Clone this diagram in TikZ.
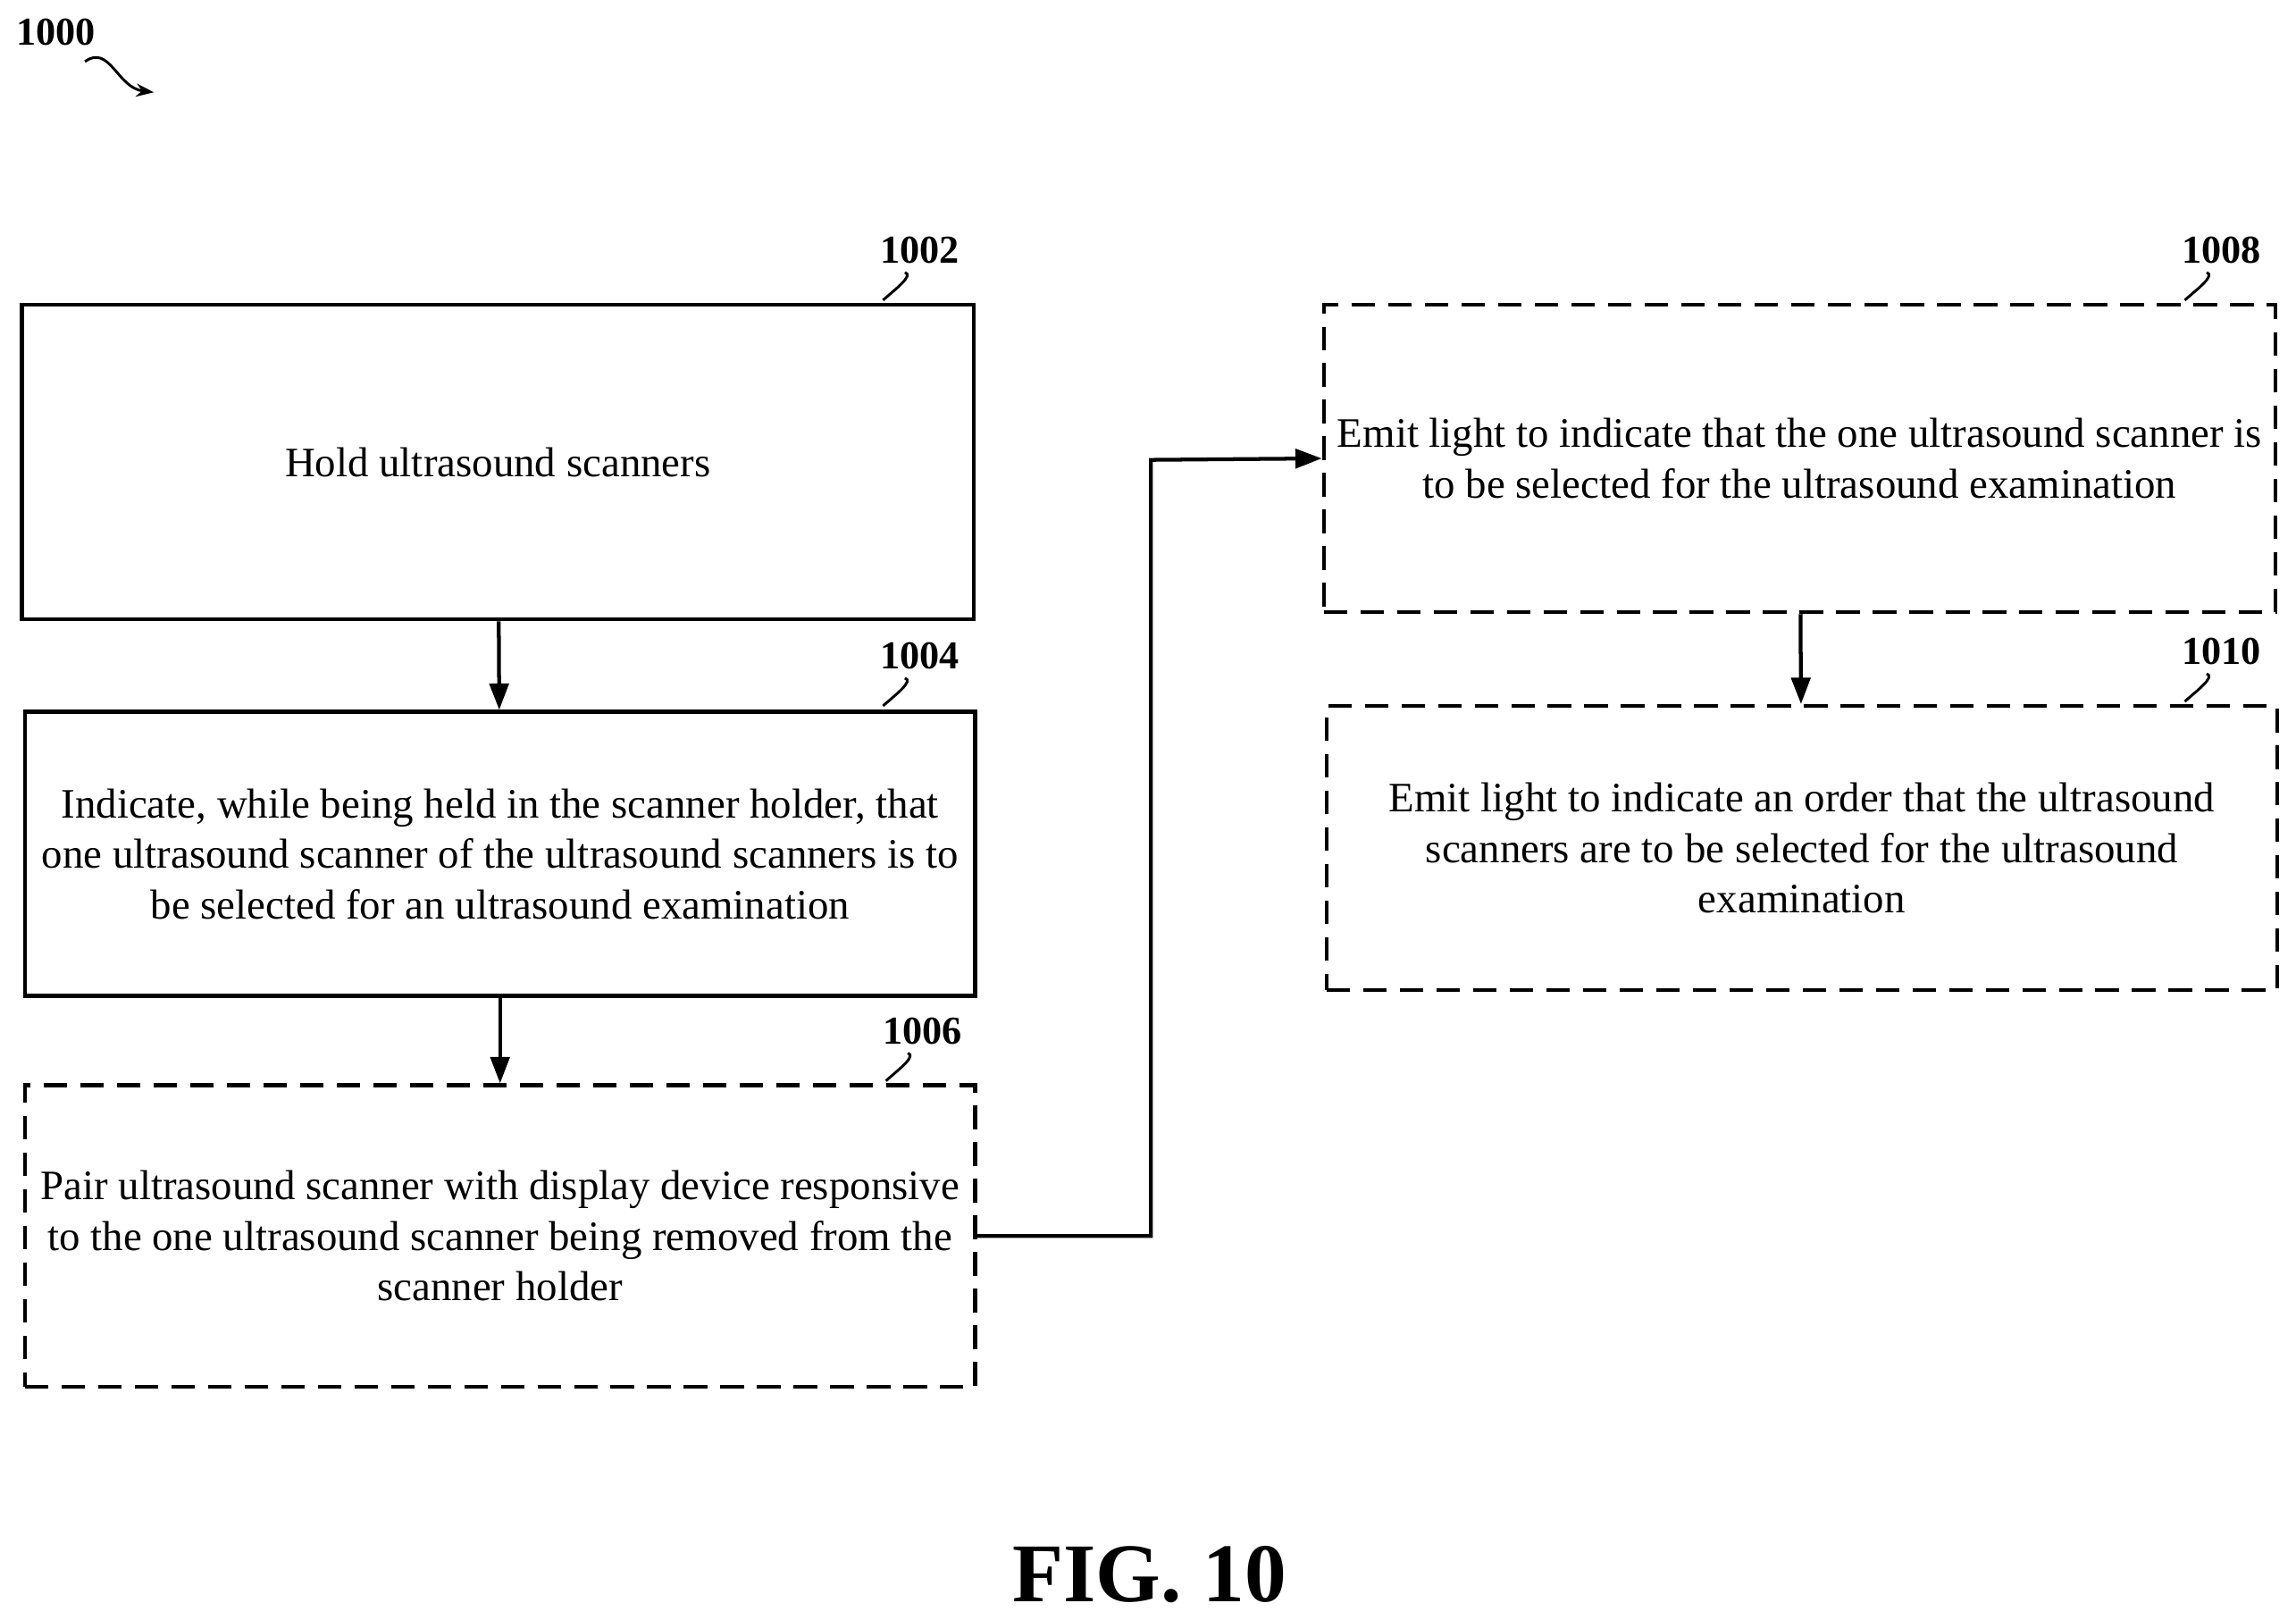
\documentclass[tikz,border=0pt]{standalone}
\usepackage{fontspec}
\setmainfont{Liberation Serif}
\usetikzlibrary{arrows.meta}
\begin{document}
\begin{tikzpicture}[x=1pt,y=-1pt,
 box/.style={draw,line width=2.6pt,inner sep=0pt,align=center,font=\fontsize{28.6}{34.5}\selectfont},
 dbox/.style={box,dash pattern=on 16pt off 9pt},
 lab/.style={font=\fontsize{27}{30}\selectfont\bfseries},
 sq/.style={line width=1.8pt},
 arr/.style={line width=2.6pt,-{Triangle[length=18pt,width=13pt]}}]
\useasboundingbox (0,0) rectangle (1568,1106);
\node[lab] (l1000) at (38,22) {1000};
\coordinate (a0) at (58,42); \coordinate (a1) at (105,63);
\draw[sq,-{Stealth[length=12pt]}] (a0) .. controls (75,30) and (80,60) .. (a1);
\node[box,minimum width=650pt,minimum height=215pt] (b1) at (340,315.5) {Hold ultrasound scanners};
\node[box,minimum width=649pt,minimum height=194pt] (b2) at (341.5,583) {Indicate, while being held in the scanner holder, that\\one ultrasound scanner of the ultrasound scanners is to\\be selected for an ultrasound examination};
\node[dbox,minimum width=649pt,minimum height=206pt] (b3) at (341.5,844) {Pair ultrasound scanner with display device responsive\\to the one ultrasound scanner being removed from the\\scanner holder};
\node[dbox,minimum width=650pt,minimum height=210pt] (b4) at (1229,313) {Emit light to indicate that the one ultrasound scanner is\\to be selected for the ultrasound examination};
\node[dbox,minimum width=649pt,minimum height=194pt] (b5) at (1230.5,579) {Emit light to indicate an order that the ultrasound\\scanners are to be selected for the ultrasound\\examination};
\foreach \n/\x/\y/\t in {b1/628/171/1002,b2/628/448/1004,b3/630/704/1006,b4/1517/171/1008,b5/1517/445/1010}{
 \node[lab] (l\t) at (\x,\y) {\t};
 \draw[sq] (\x-10,\y+15) .. controls (\x-4,\y+17) and (\x-16,\y+26) .. (\x-25,\y+34);
}
\draw[arr] (b1) -- (b2);
\draw[arr] (b2) -- (b3);
\coordinate (c1) at (786,844); \coordinate (c2) at (786,314);
\draw[arr] (b3.east) -- (c1) -- (c2) -- (b4.west);
\draw[arr] (b4) -- (b5);
\node[font=\fontsize{57}{64}\selectfont\bfseries] (fig) at (785,1075) {FIG. 10};
\end{tikzpicture}
\end{document}
